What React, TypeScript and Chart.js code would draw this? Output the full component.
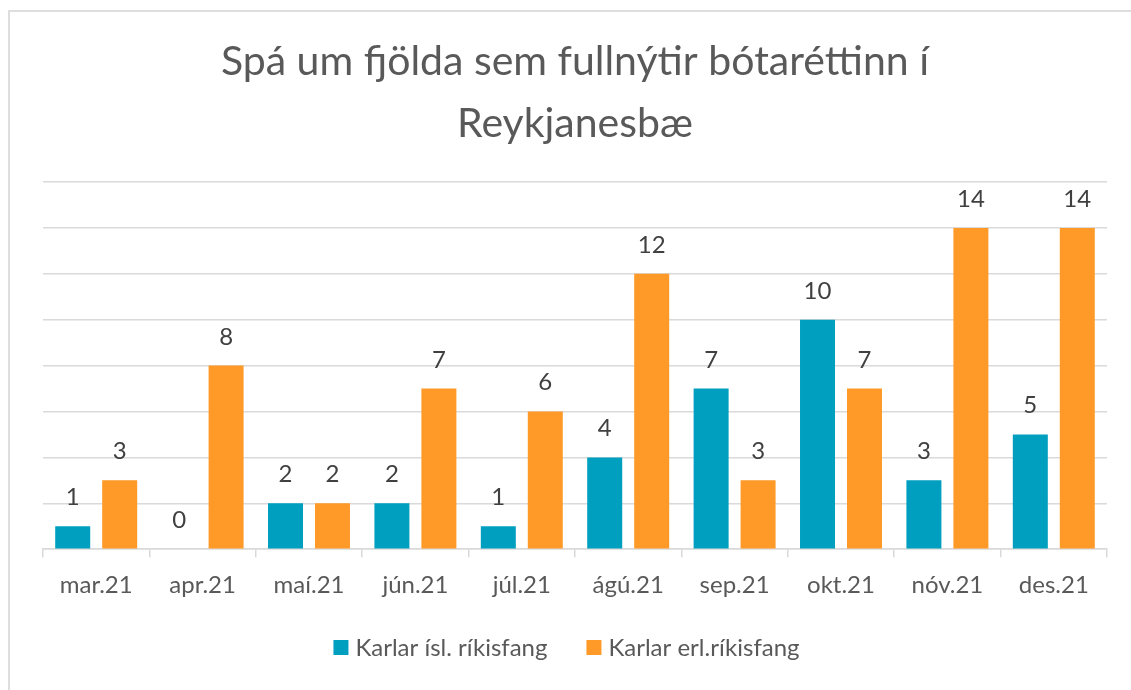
import React, { useEffect, useRef } from "react";
import { Chart, registerables } from "chart.js";

Chart.register(...registerables);

const titleLines = ["Spá um fjölda sem fullnýtir bótaréttinn í", "Reykjanesbæ"];
const categories = ["mar.21", "apr.21", "maí.21", "jún.21", "júl.21", "ágú.21", "sep.21", "okt.21", "nóv.21", "des.21"];
const seriesIslName = "Karlar ísl. ríkisfang";
const seriesErlName = "Karlar erl.ríkisfang";
const karlarIsl = [1, 0, 2, 2, 1, 4, 7, 10, 3, 5];
const karlarErl = [3, 8, 2, 7, 6, 12, 3, 7, 14, 14];

const FONT = "Lato, 'Open Sans', sans-serif";

const valueLabels = {
  id: "valueLabels",
  afterDatasetsDraw(chart: any) {
    const ctx = chart.ctx;
    ctx.save();
    ctx.font = `24px ${FONT}`;
    ctx.fillStyle = "#404040";
    ctx.textAlign = "center";
    ctx.textBaseline = "alphabetic";
    chart.data.datasets.forEach((ds: any, i: number) => {
      const meta = chart.getDatasetMeta(i);
      meta.data.forEach((bar: any, j: number) => {
        ctx.fillText(String(ds.data[j]), bar.x, bar.y - 21);
      });
    });
    ctx.restore();
  },
};

const bottomLegend = {
  id: "bottomLegend",
  afterDraw(chart: any) {
    const ctx = chart.ctx;
    ctx.save();
    ctx.font = `24px ${FONT}`;
    const box = 15;
    const boxGap = 7;
    const itemGap = 39;
    const items = chart.data.datasets.map((ds: any) => ({
      label: ds.label,
      color: ds.backgroundColor,
      w: box + boxGap + ctx.measureText(ds.label).width,
    }));
    const total = items.reduce((s: number, it: any) => s + it.w, 0) + itemGap * (items.length - 1);
    let x = chart.width / 2 - total / 2 + 1;
    const cy = 648;
    items.forEach((it: any) => {
      ctx.fillStyle = it.color;
      ctx.fillRect(x, cy - 8, box, box);
      ctx.fillStyle = "#595959";
      ctx.textAlign = "left";
      ctx.textBaseline = "middle";
      ctx.fillText(it.label, x + box + boxGap, cy);
      x += it.w + itemGap;
    });
    ctx.restore();
  },
};

export default function App() {
  const ref = useRef<HTMLCanvasElement | null>(null);
  useEffect(() => {
    if (!ref.current) return;
    const chart = new Chart(ref.current, {
      type: "bar",
      data: {
        labels: categories,
        datasets: [
          {
            label: seriesIslName,
            data: karlarIsl,
            backgroundColor: "#009FC0",
            barPercentage: 0.745,
            categoryPercentage: 0.883,
          },
          {
            label: seriesErlName,
            data: karlarErl,
            backgroundColor: "#FF9A29",
            barPercentage: 0.745,
            categoryPercentage: 0.883,
          },
        ],
      },
      options: {
        responsive: false,
        animation: false,
        layout: { padding: { top: 0, left: 43, right: 24, bottom: 76 } },
        plugins: {
          title: {
            display: true,
            text: titleLines,
            color: "#595959",
            font: { family: FONT, size: 41, weight: "normal", lineHeight: 1.512 },
            padding: { top: 31, bottom: 27 },
          },
          legend: { display: false },
          tooltip: { enabled: false },
        },
        scales: {
          x: {
            grid: { drawOnChartArea: false, drawTicks: true, tickLength: 8, color: "#D9D9D9", offset: true, lineWidth: 1.5 },
            border: { display: true, color: "#D9D9D9", width: 1.5 },
            ticks: { color: "#595959", font: { family: FONT, size: 24 }, padding: 14 },
          },
          y: {
            min: 0,
            max: 16,
            ticks: { display: false, stepSize: 2 },
            grid: { color: "#DADADA", drawTicks: false, lineWidth: 1.5 },
            border: { display: false },
          },
        },
      },
      plugins: [valueLabels, bottomLegend],
    });
    return () => chart.destroy();
  }, []);
  return (
    <div style={{ position: "fixed", left: 0, top: 0, width: 1131, height: 690, background: "#fff", overflow: "hidden" }}>
      <div style={{ position: "absolute", left: 8, top: 10, width: 1300, height: 900, border: "2px solid #DEDEDE" }} />
      <canvas ref={ref} width={1131} height={690} style={{ position: "absolute", left: 0, top: 0 }} />
    </div>
  );
}
